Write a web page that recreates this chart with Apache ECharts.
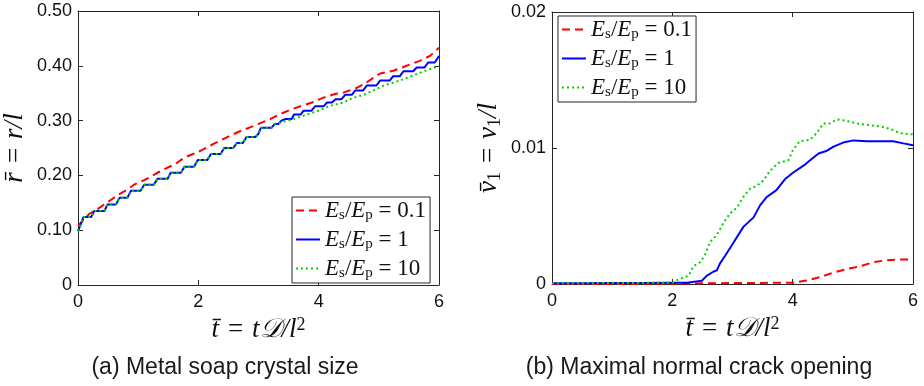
<!DOCTYPE html>
<html>
<head>
<meta charset="utf-8">
<script src="https://cdn.jsdelivr.net/npm/echarts@6/dist/echarts.min.js"></script>
<style>html,body{margin:0;padding:0;background:#fff}#c{width:924px;height:386px}</style>
</head>
<body>
<div id="c"></div>
<script>
// ---------- data ----------
const seriesNames = ['0.1', '1', '10'];
const xTicks = [0, 2, 4, 6];
const leftYTicks = [0, 0.10, 0.20, 0.30, 0.40, 0.50];
const rightYTicks = [0, 0.01, 0.02];

// (a) crystal size
const aRedT = [0,0.19,0.33,0.49,0.66,0.80,0.93,1.13,1.29,1.43,1.62,1.76,1.93,2.04,2.26,2.48,2.70,2.87,3.00,3.20,3.36,3.56,3.72,3.89,4.08,4.28,4.41,4.64,4.80,5.02,5.24,5.46,5.68,5.85,6.00];
const aRedR = [0.108,0.130,0.139,0.151,0.164,0.173,0.183,0.193,0.203,0.211,0.221,0.232,0.240,0.245,0.258,0.270,0.281,0.288,0.294,0.303,0.312,0.321,0.327,0.333,0.342,0.349,0.351,0.360,0.370,0.386,0.391,0.400,0.409,0.418,0.433];
const aBlueT = [0,0.02,0.09,0.22,0.27,0.44,0.49,0.63,0.69,0.82,0.88,1.04,1.10,1.26,1.32,1.49,1.54,1.71,1.77,1.93,1.99,2.15,2.21,2.37,2.43,2.58,2.64,2.74,2.80,2.95,3.00,3.04,3.22,3.27,3.33,3.38,3.45,3.55,3.59,3.70,3.75,3.88,3.94,4.08,4.14,4.22,4.28,4.38,4.44,4.55,4.61,4.74,4.80,4.96,5.02,5.18,5.24,5.35,5.41,5.57,5.63,5.76,5.82,5.93,6.00];
const aBlueR = [0.098,0.100,0.124,0.124,0.135,0.135,0.147,0.147,0.159,0.159,0.172,0.172,0.183,0.183,0.194,0.194,0.205,0.205,0.216,0.216,0.228,0.228,0.239,0.239,0.250,0.250,0.259,0.259,0.270,0.270,0.276,0.287,0.287,0.294,0.294,0.300,0.303,0.303,0.311,0.311,0.318,0.318,0.326,0.326,0.333,0.333,0.339,0.339,0.347,0.347,0.355,0.355,0.364,0.364,0.373,0.373,0.381,0.381,0.390,0.390,0.397,0.397,0.406,0.406,0.418];
const aGreenT = [0,0.02,0.09,0.22,0.27,0.44,0.49,0.63,0.69,0.82,0.88,1.04,1.10,1.26,1.32,1.49,1.54,1.71,1.77,1.93,1.99,2.15,2.21,2.37,2.43,2.58,2.64,2.74,2.80,2.95,3.00,3.04,3.22,3.27,3.33,3.53,3.75,3.97,4.19,4.41,4.58,4.75,4.91,5.08,5.35,5.63,6.00];
const aGreenR = [0.098,0.100,0.124,0.124,0.135,0.135,0.147,0.147,0.159,0.159,0.172,0.172,0.183,0.183,0.194,0.194,0.205,0.205,0.216,0.216,0.228,0.228,0.239,0.239,0.250,0.250,0.259,0.259,0.270,0.270,0.276,0.287,0.287,0.294,0.295,0.301,0.309,0.317,0.327,0.333,0.342,0.347,0.355,0.364,0.373,0.385,0.400];

// (b) crack opening
const bRedT = [0,1,2,2.5,3,3.5,4.01,4.23,4.45,4.68,4.90,5.12,5.34,5.56,5.78,6.00];
const bRedV = [0,0,0.00002,0.00005,0.00007,0.00008,0.0001,0.00025,0.0005,0.00085,0.0011,0.0013,0.0016,0.00175,0.0018,0.0018];
const bBlueT = [0,0.5,1,1.5,2,2.24,2.49,2.57,2.68,2.74,2.79,2.88,3.01,3.18,3.35,3.46,3.57,3.73,3.87,4.01,4.18,4.29,4.43,4.57,4.68,4.84,5.01,5.23,5.45,5.67,5.84,6.00];
const bBlueV = [0.00005,0.00006,0.00007,0.00008,0.0001,0.0001,0.00024,0.0006,0.0009,0.001,0.0015,0.0021,0.003,0.0042,0.0049,0.0058,0.0064,0.0069,0.0077,0.0082,0.0087,0.0091,0.0096,0.0098,0.0101,0.0104,0.01056,0.0105,0.0105,0.0105,0.01034,0.0102];
const bGreenT = [0,0.5,1,1.5,2,2.02,2.13,2.27,2.35,2.46,2.54,2.63,2.74,2.85,2.96,3.07,3.18,3.29,3.40,3.51,3.62,3.76,3.93,4.01,4.12,4.29,4.40,4.51,4.62,4.73,4.90,5.06,5.23,5.45,5.62,5.78,6.00];
const bGreenV = [0.00005,0.00006,0.00007,0.00008,0.0001,0.0002,0.0004,0.0006,0.0013,0.0016,0.0021,0.0031,0.0036,0.0045,0.0052,0.0056,0.0064,0.007,0.0072,0.0076,0.0083,0.0089,0.0091,0.0099,0.0105,0.0106,0.0111,0.0118,0.0118,0.0121,0.012,0.0118,0.0117,0.0116,0.0114,0.0111,0.011];

const captions = ['(a) Metal soap crystal size', '(b) Maximal normal crack opening'];

// ---------- helpers ----------
const zip = (a, b) => a.map((v, i) => [v, b[i]]);
const AX = '#262626';
const SANS = 'Liberation Sans, Arial, sans-serif';
const SERIF = 'Liberation Serif, DejaVu Serif, serif';
const SP = '\u2004';
const mathRich = {
  i: {fontFamily: SERIF, fontStyle: 'italic', fontSize: 27, color: '#111'},
  n: {fontFamily: SERIF, fontSize: 27, color: '#111'},
  sub: {fontFamily: SERIF, fontSize: 18, color: '#111', verticalAlign: 'bottom', padding: [12, 0, 0, 0]},
  sup: {fontFamily: SERIF, fontSize: 18, color: '#111', verticalAlign: 'top', padding: [0, 0, 11, 0]}
};
const legRich = {
  e: {fontFamily: SERIF, fontStyle: 'italic', fontSize: 23, color: '#111', lineHeight: 22},
  n: {fontFamily: SERIF, fontSize: 23, color: '#111', lineHeight: 22},
  s: {fontFamily: SERIF, fontSize: 15, color: '#111', verticalAlign: 'bottom', padding: [10, 0, 0, 0]}
};
const colors = ['#ff0000', '#0000ff', '#00d400'];
const lineStyles = [
  {color: colors[0], width: 2, type: [8, 5]},
  {color: colors[1], width: 2, type: 'solid'},
  {color: colors[2], width: 2, type: [2, 3]}
];
function mkX(gi, pos, show) {
  return {type: 'value', gridIndex: gi, position: pos, min: xTicks[0], max: xTicks[xTicks.length - 1], interval: 2,
    axisLine: {show: true, onZero: false, lineStyle: {color: AX, width: 1}},
    axisTick: {show: true, inside: true, length: 5, lineStyle: {color: AX}},
    axisLabel: {show: show, color: '#111', fontFamily: SANS, fontSize: 18, margin: 8},
    splitLine: {show: false}};
}
function mkY(gi, pos, show, ticks, fmt) {
  return {type: 'value', gridIndex: gi, position: pos, min: ticks[0], max: ticks[ticks.length - 1], interval: ticks[1] - ticks[0],
    axisLine: {show: true, onZero: false, lineStyle: {color: AX, width: 1}},
    axisTick: {show: true, inside: true, length: 5, lineStyle: {color: AX}},
    axisLabel: {show: show, color: '#111', fontFamily: SANS, fontSize: 18, margin: 6, formatter: fmt},
    splitLine: {show: false}};
}
const xs = [mkX(0, 'bottom', true), mkX(1, 'bottom', true), mkX(0, 'top', false), mkX(1, 'top', false)];
xs[0].name = '{i|t\u0304}{n|' + SP + '=' + SP + '}{i|t\uD835\uDC9F/l}{sup|2}';
xs[1].name = xs[0].name;
[xs[0], xs[1]].forEach(a => { a.nameLocation = 'middle'; a.nameGap = 26; a.nameTextStyle = {rich: mathRich}; });
const ys = [
  mkY(0, 'left', true, leftYTicks, v => v === 0 ? '0' : v.toFixed(2)),
  mkY(1, 'left', true, rightYTicks, v => v === 0 ? '0' : v.toFixed(2)),
  mkY(0, 'right', false, leftYTicks),
  mkY(1, 'right', false, rightYTicks)
];
ys[0].name = '{i|r\u0304}{n|' + SP + '=' + SP + '}{i|r/l}';
ys[1].name = '{i|v\u0304}{sub|1}{n|' + SP + '=' + SP + '}{i|v}{sub|1}{i|/l}';
[ys[0], ys[1]].forEach(a => { a.nameLocation = 'middle'; a.nameTextStyle = {rich: mathRich}; });
ys[0].nameGap = 50; ys[1].nameGap = 48;

const aData = [zip(aRedT, aRedR), zip(aBlueT, aBlueR), zip(aGreenT, aGreenR)];
const bData = [zip(bRedT, bRedV), zip(bBlueT, bBlueV), zip(bGreenT, bGreenV)];
const series = [];
[aData, bData].forEach((set, gi) => set.forEach((d, k) => series.push({
  type: 'line', name: seriesNames[k], xAxisIndex: gi, yAxisIndex: gi, data: d,
  symbol: 'none', showSymbol: false, lineStyle: lineStyles[k], itemStyle: {color: colors[k]},
  animation: false, z: 2 + k
})));

const legendBase = {
  orient: 'vertical', data: seriesNames, itemWidth: 24, itemHeight: 14, itemGap: 5,
  itemStyle: {color: 'rgba(0,0,0,0)', borderColor: 'rgba(0,0,0,0)', borderWidth: 0},
  backgroundColor: '#fff', borderColor: AX, borderWidth: 1, borderRadius: 0, padding: [2, 4, 2, 3],
  selectedMode: false,
  formatter: n => '{e|E}{s|s}{n|/}{e|E}{s|p}{n| = ' + n + '}',
  textStyle: {rich: legRich}
};

const option = {
  backgroundColor: '#fff',
  animation: false,
  grid: [
    {left: 77, top: 11, width: 362, height: 274, show: false},
    {left: 552, top: 12, width: 361, height: 272, show: false}
  ],
  xAxis: xs,
  yAxis: ys,
  legend: [
    Object.assign({}, legendBase, {left: 292, top: 197}),
    Object.assign({}, legendBase, {left: 558, top: 16})
  ],
  series: series,
  graphic: [
    {type: 'text', style: {text: captions[0], x: 225, y: 368, textAlign: 'center', textVerticalAlign: 'middle', font: '23px ' + SANS, fill: '#1a1a1a'}},
    {type: 'text', style: {text: captions[1], x: 699, y: 368, textAlign: 'center', textVerticalAlign: 'middle', font: '23px ' + SANS, fill: '#1a1a1a'}}
  ]
};

const chart = echarts.init(document.getElementById('c'), null, {renderer: 'canvas'});
chart.setOption(option);
</script>
</body>
</html>
